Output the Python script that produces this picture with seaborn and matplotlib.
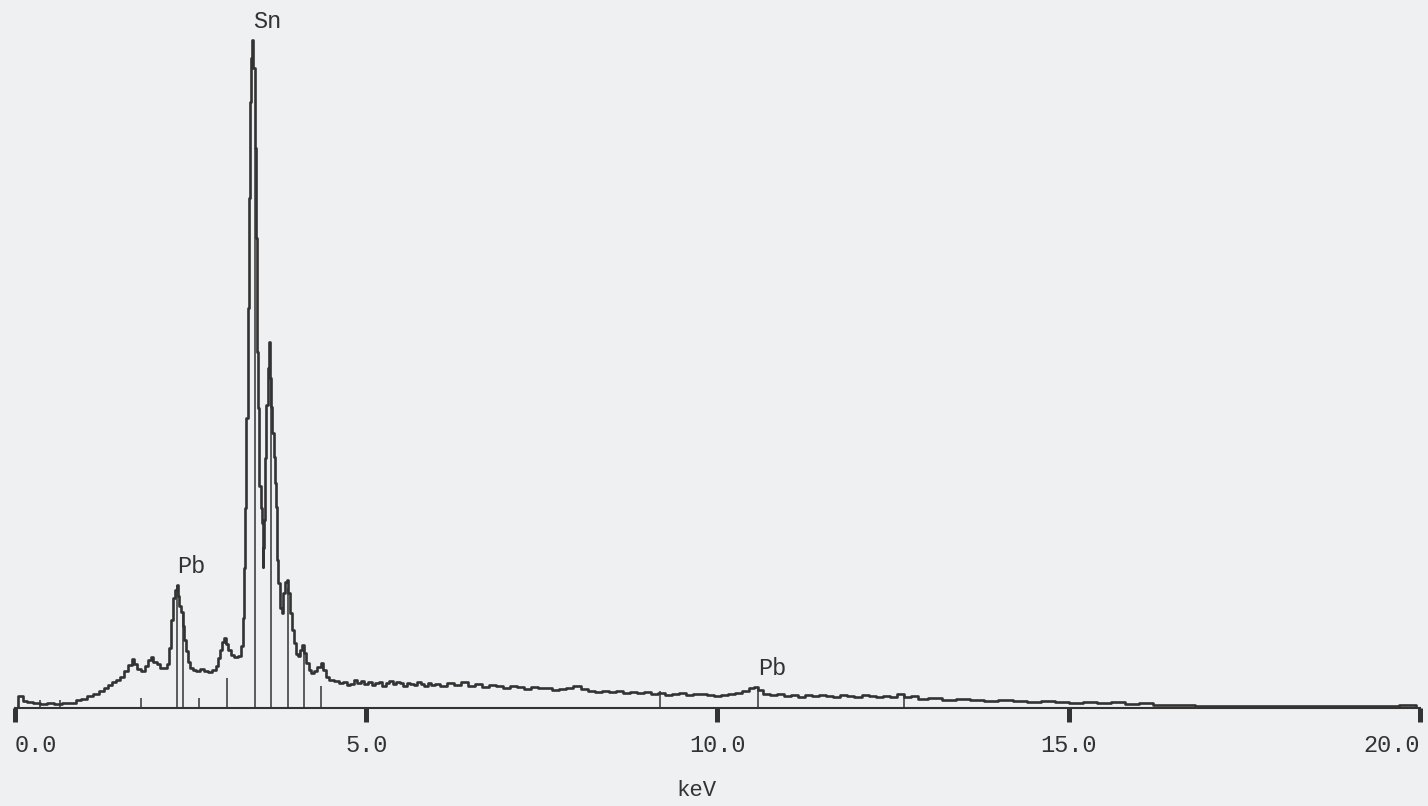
import numpy as np
import pandas as pd
import matplotlib
matplotlib.use('Agg')
import matplotlib.pyplot as plt
import seaborn as sns

# spectrum (keV, counts)
energy = [0.03, 0.06, 0.10, 0.13, 0.21, 0.30, 0.41, 0.50, 0.61, 0.73, 0.84, 0.90, 0.98,
          1.07, 1.15, 1.24, 1.30, 1.35, 1.41, 1.47, 1.52, 1.58, 1.64, 1.68, 1.72, 1.76,
          1.82, 1.88, 1.92, 1.95, 1.99, 2.04, 2.08, 2.14, 2.18, 2.21, 2.23, 2.26, 2.29,
          2.31, 2.32, 2.35, 2.38, 2.40, 2.42, 2.45, 2.48, 2.51, 2.55, 2.60, 2.66, 2.72,
          2.78, 2.83, 2.88, 2.90, 2.93, 2.96, 2.99, 3.02, 3.05, 3.09, 3.15, 3.20, 3.23,
          3.25, 3.26, 3.27, 3.29, 3.30, 3.32, 3.33, 3.35, 3.36, 3.37, 3.39, 3.40, 3.42,
          3.43, 3.44, 3.46, 3.47, 3.49, 3.50, 3.52, 3.53, 3.54, 3.56, 3.57, 3.59, 3.60,
          3.62, 3.63, 3.64, 3.66, 3.67, 3.69, 3.70, 3.73, 3.74, 3.76, 3.79, 3.80, 3.83,
          3.86, 3.87, 3.90, 3.93, 3.96, 3.99, 4.01, 4.04, 4.07, 4.10, 4.13, 4.16, 4.20,
          4.24, 4.28, 4.33, 4.37, 4.40, 4.44, 4.50, 4.57, 4.64,
          4.70, 4.75, 4.80, 4.85, 4.90, 4.95, 5.00, 5.05, 5.10, 5.15, 5.20, 5.25, 5.30,
          5.35, 5.40, 5.45, 5.50, 5.55, 5.60, 5.65, 5.70, 5.75, 5.80, 5.85, 5.90, 5.95,
          6.00, 6.10, 6.20, 6.30, 6.40, 6.50, 6.60, 6.70, 6.80, 6.90, 7.00, 7.10, 7.20,
          7.30, 7.40, 7.50, 7.60, 7.70, 7.80, 7.90, 8.00, 8.10, 8.20, 8.30, 8.40, 8.50,
          8.60, 8.70, 8.80, 8.90, 9.00, 9.10, 9.20, 9.30, 9.40, 9.50, 9.60, 9.70, 9.80,
          9.90, 10.00, 10.10, 10.20, 10.30, 10.40, 10.50, 10.55, 10.60, 10.70, 10.80,
          10.90, 11.00, 11.10, 11.20, 11.30, 11.40, 11.50, 11.60, 11.70, 11.80, 11.90,
          12.00, 12.10, 12.20, 12.30, 12.40, 12.50, 12.60, 12.70, 12.80,
          12.90, 13.10, 13.30, 13.50, 13.70, 13.90, 14.10, 14.30, 14.50, 14.70, 14.90,
          15.10, 15.30, 15.50, 15.70, 15.90, 16.10, 16.30, 16.60, 17.00, 17.50, 18.00,
          18.50, 19.00, 19.50, 19.90, 20.00]
counts = [0, 12, 12, 7, 6, 5, 4, 5, 4, 5, 5, 8, 9,
          12, 14, 17, 20, 23, 26, 28, 31, 37, 43, 49, 44, 39,
          37, 42, 48, 51, 46, 44, 40, 40, 44, 60, 88, 110, 118,
          123, 112, 102, 96, 82, 68, 57, 46, 40, 38, 37, 39, 37,
          36, 38, 42, 50, 58, 66, 70, 64, 58, 53, 51, 52, 62,
          90, 110, 140, 200, 290, 400, 510, 606, 620, 650, 668, 640, 560,
          481, 470, 356, 300, 222, 200, 185, 141, 160, 188, 250, 303, 340,
          366, 360, 330, 301, 275, 251, 225, 201, 148, 125, 100, 95, 115,
          126, 128, 115, 95, 78, 65, 54, 52, 58, 63, 55, 45, 38,
          35, 37, 41, 45, 38, 31, 28, 27, 25,
          26, 23, 24, 28, 25, 27, 24, 26, 23, 25, 26, 22, 25,
          27, 24, 26, 25, 22, 25, 24, 23, 26, 24, 22, 25, 23,
          24, 22, 25, 23, 26, 22, 24, 21, 23, 22, 20, 22, 21,
          19, 21, 20, 20, 18, 19, 20, 22, 19, 17, 16, 17, 16,
          17, 15, 16, 15, 16, 14, 15, 13, 14, 15, 13, 14, 14,
          13, 12, 13, 14, 15, 17, 20, 21, 18, 14, 13,
          14, 12, 13, 11, 13, 12, 13, 12, 11, 13, 12,
          11, 13, 12, 11, 12, 11, 14, 11, 12,
          9, 10, 8, 9, 8, 7, 8, 7, 6, 7, 6,
          5, 6, 5, 6, 4, 5, 3, 3, 2, 2, 2,
          2, 2, 2, 3, 0]

# element marker lines (keV, height)
marker_kev = [0.36, 0.64, 1.79, 2.31, 2.39, 2.62, 3.02, 3.42, 3.64, 3.89, 4.11, 4.36,
              9.18, 10.58, 12.65]
marker_h = [8, 8, 10, 123, 95, 10, 30, 560, 330, 120, 60, 22, 17, 21, 14]

# peak labels
peak_labels = ['Sn', 'Pb', 'Pb']
peak_kev = [3.39, 2.31, 10.58]
peak_y = [668, 123, 21]

tick_vals = [0, 5, 10, 15, 20]
tick_text = ['0.0', '5.0', '10.0', '15.0', '20.0']

df = pd.DataFrame({'keV': energy, 'counts': counts})

sns.set_style('white')
mono = ['Liberation Mono', 'DejaVu Sans Mono']
plt.rcParams['font.family'] = mono
ink = '#333333'
paper = '#eef0f1'

fig = plt.figure(figsize=(14.28, 8.06), dpi=100, facecolor=paper)
ax = fig.add_axes([15 / 1428, 1 - 708 / 806, 1405 / 1428, 688 / 806])
ax.set_facecolor(paper)

sns.lineplot(data=df, x='keV', y='counts', ax=ax, estimator=None, sort=True,
             drawstyle='steps-mid', color=ink, linewidth=1.9)
ax.vlines(marker_kev, 0, marker_h, color=ink, linewidth=1.1)

for lab, xk, yk in zip(peak_labels, peak_kev, peak_y):
    ax.text(xk, yk + 7, lab, ha='left', va='bottom', fontsize=17, color=ink,
            family=mono)

ax.set_xlim(0, 20)
ax.set_ylim(0, 688)
ax.set_xticks(tick_vals)
ax.set_xticklabels(tick_text, fontsize=17, color=ink, family=mono)
labs = ax.get_xticklabels()
labs[0].set_ha('left')
labs[-1].set_ha('right')
ax.tick_params(axis='x', bottom=True, direction='out', length=10, width=3.6,
               color=ink, pad=9)
ax.set_yticks([])
ax.set_xlabel('keV', fontsize=16, color=ink, family=mono)
ax.xaxis.set_label_coords(681 / 1405, -72 / 688)
ax.set_ylabel('')
for s in ['top', 'right', 'left']:
    ax.spines[s].set_visible(False)
ax.spines['bottom'].set_color(ink)
ax.spines['bottom'].set_linewidth(1.5)

fig.savefig('out.png', dpi=100, facecolor=paper)
